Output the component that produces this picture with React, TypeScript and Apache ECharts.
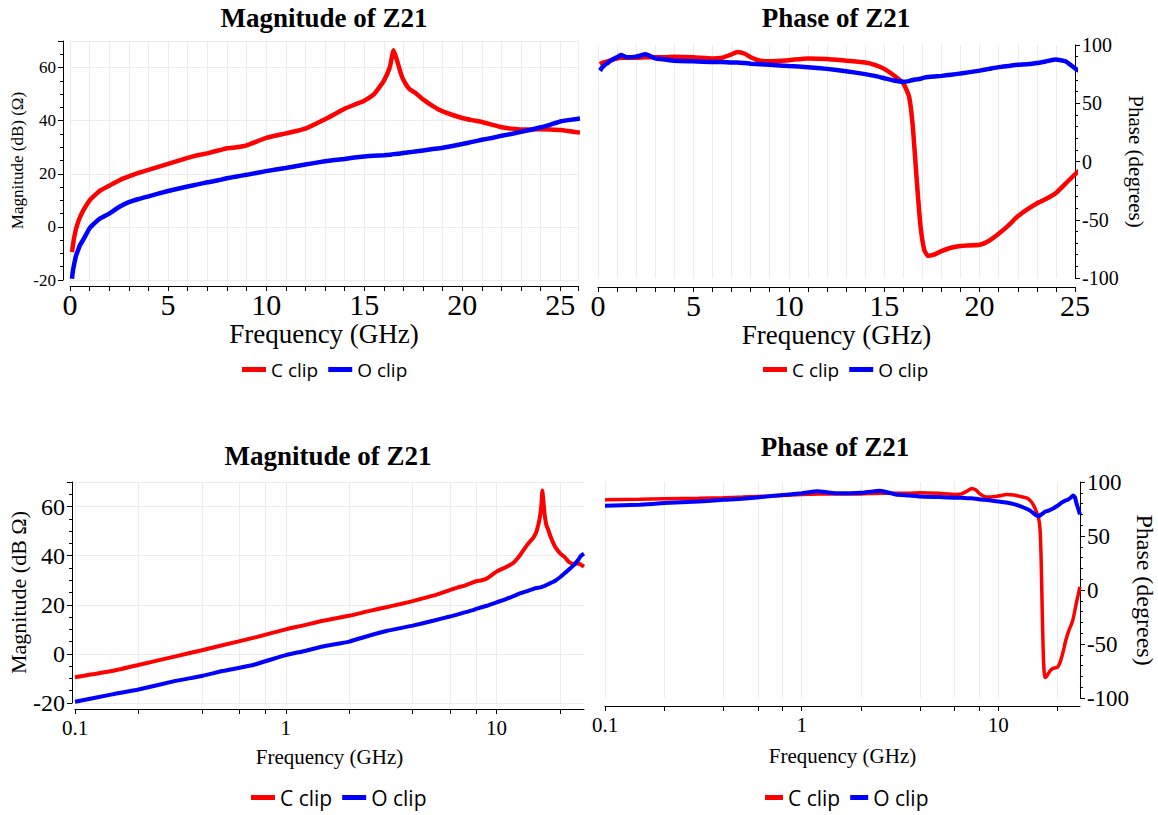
import React, { useEffect, useRef } from "react";
import * as echarts from "echarts";

// Frequency samples (GHz)
const freq = [0.1, 0.15, 0.2, 0.3, 0.4, 0.5, 0.7, 1, 1.2, 1.5, 2, 2.5, 3, 3.5, 4, 5, 6, 6.5, 7, 7.3, 7.7, 8, 8.5, 9, 10, 11, 12, 13, 14, 14.5, 15, 15.5, 16, 16.3, 16.5, 16.7, 16.9, 17.1, 17.3, 17.6, 18, 18.5, 19, 20, 20.5, 21, 21.5, 22, 22.5, 23, 23.5, 24, 24.5, 25, 25.5, 26];

// Magnitude of Z21 (dB Ω)
const magC = [-9.5, -7, -4.5, -1, 1.5, 3.5, 6.5, 10, 11.5, 13.5, 15.5, 17.5, 19, 20.3, 21.5, 23.7, 26, 27, 27.7, 28.3, 29, 29.6, 30, 30.7, 33.5, 35.2, 37, 40.5, 44.5, 46, 47.5, 50, 55, 60, 66.5, 62, 57, 54, 52, 50.5, 48, 45.5, 43.5, 41, 40.2, 39.5, 38.5, 37.5, 37, 36.7, 36.7, 36.8, 36.7, 36.5, 36, 35.5];
const magO = [-19.5, -16.5, -14.5, -11, -9, -7, -4.5, -0.5, 1, 3, 5, 7.5, 9.3, 10.5, 11.5, 13.5, 15.2, 16, 16.8, 17.2, 17.8, 18.3, 19, 19.6, 21, 22.2, 23.5, 24.7, 25.6, 26.1, 26.5, 26.8, 27, 27.2, 27.4, 27.5, 27.7, 27.9, 28.1, 28.4, 28.8, 29.3, 29.8, 31.2, 32, 32.8, 33.5, 34.3, 35, 35.8, 36.6, 37.5, 38.5, 39.7, 40.3, 40.8];

// Phase of Z21 (degrees)
const phaseC = [83.5, 84, 84.5, 85, 85.5, 86, 87, 88.5, 89, 89, 89, 89.5, 89.5, 89.5, 90, 89.5, 88.5, 89, 92, 94, 92.5, 89.5, 86.5, 86, 87, 88.5, 88, 86.5, 85, 83, 79.5, 74, 67, 56, 30, -15, -55, -76, -81, -80, -77, -74, -72.5, -71.5, -68, -62, -55, -47, -41, -36, -32, -27, -19, -11, -4, 3];
const phaseO = [78, 79, 80.5, 82, 83.5, 84.5, 87, 89.5, 91.5, 89.5, 90, 92, 88.5, 87.5, 86.5, 86, 85.5, 85.5, 85, 85, 84.5, 84, 83.5, 83, 82, 81, 79.5, 77.5, 75, 73.5, 71.5, 69.5, 68.5, 69, 70, 70.5, 71, 72, 72.5, 73, 73.5, 74.5, 75.5, 78, 79.5, 81, 82, 83, 83.5, 84.5, 86, 87.5, 86, 80, 75, 70];

// Tick labels
const linLabels = [0, 5, 10, 15, 20, 25];
const logTickValues = [0.1, 0.2, 0.4, 0.6, 0.8, 1, 2, 4, 6, 8, 10, 20];
const logLabelValues = [0.1, 1, 10];
const seriesNames = ["C clip", "O clip"];

const RED = "#ff0000";
const BLUE = "#0000ff";
const SERIF = '"Liberation Serif", "Times New Roman", serif';
const SANS = '"Open Sans", "DejaVu Sans", sans-serif';
const GRID_COLOR = "#ececec";

function pairs(ys: number[]) {
  return freq.map((f, i) => [f, ys[i]]);
}

function linX(gridIndex: number, max: number, offset: number, labelSize: number, nameSize: number, nameGap: number) {
  return {
    gridIndex,
    type: "value",
    min: 0,
    max,
    interval: 1,
    offset,
    axisLine: { show: true, onZero: false, lineStyle: { color: "#000", width: 1 } },
    axisTick: { show: true, length: 5, lineStyle: { color: "#000" } },
    splitLine: { show: true, lineStyle: { color: GRID_COLOR, width: 1 } },
    axisLabel: {
      show: true,
      interval: 0,
      margin: 3,
      color: "#000",
      fontFamily: SERIF,
      fontSize: labelSize,
      formatter: (v: number) => (linLabels.includes(Math.round(v * 1000) / 1000) ? String(v) : ""),
    },
    name: "Frequency (GHz)",
    nameLocation: "middle",
    nameGap,
    nameTextStyle: { color: "#000", fontFamily: SERIF, fontSize: nameSize },
  };
}

function logX(gridIndex: number, max: number, offset: number, labelSize: number, nameSize: number, nameGap: number) {
  return {
    gridIndex,
    type: "log",
    logBase: 10,
    min: 0.1,
    max,
    offset,
    axisLine: { show: true, onZero: false, lineStyle: { color: "#000", width: 1 } },
    axisTick: { show: true, length: 5, customValues: logTickValues, lineStyle: { color: "#000" } },
    splitLine: { show: true, lineStyle: { color: GRID_COLOR, width: 1 } },
    axisLabel: {
      show: true,
      customValues: logLabelValues,
      margin: 8,
      color: "#000",
      fontFamily: SERIF,
      fontSize: labelSize,
      formatter: (v: number) => String(+Number(v).toPrecision(3)),
    },
    name: "Frequency (GHz)",
    nameLocation: "middle",
    nameGap,
    nameTextStyle: { color: "#000", fontFamily: SERIF, fontSize: nameSize },
  };
}

function magY(gridIndex: number, offset: number, labelSize: number, name: string, nameSize: number, nameGap: number) {
  return {
    gridIndex,
    type: "value",
    position: "left",
    min: -20,
    max: 70,
    interval: 20,
    offset,
    axisLine: { show: true, onZero: false, lineStyle: { color: "#000", width: 1 } },
    axisTick: { show: true, length: 5, lineStyle: { color: "#000" } },
    minorTick: { show: true, splitNumber: 4, length: 3, lineStyle: { color: "#000" } },
    splitLine: { show: true, lineStyle: { color: GRID_COLOR, width: 1 } },
    axisLabel: { show: true, color: "#000", fontFamily: SERIF, fontSize: labelSize, margin: 7, showMaxLabel: false },
    name,
    nameLocation: "middle",
    nameGap,
    nameTextStyle: { color: "#000", fontFamily: SERIF, fontSize: nameSize },
  };
}

function phaseY(gridIndex: number, labelSize: number, nameSize: number, nameGap: number) {
  return {
    gridIndex,
    type: "value",
    position: "right",
    min: -100,
    max: 100,
    interval: 50,
    axisLine: { show: true, onZero: false, lineStyle: { color: "#000", width: 1 } },
    axisTick: { show: true, length: 5, lineStyle: { color: "#000" } },
    minorTick: { show: true, splitNumber: 5, length: 3, lineStyle: { color: "#000" } },
    splitLine: { show: false },
    axisLabel: { show: true, color: "#000", fontFamily: SERIF, fontSize: labelSize, margin: 7 },
    name: "Phase (degrees)",
    nameLocation: "middle",
    nameRotate: -90,
    nameGap,
    nameTextStyle: { color: "#000", fontFamily: SERIF, fontSize: nameSize },
  };
}

function lineSeries(name: string, color: string, data: number[], idx: number, width: number) {
  return {
    type: "line",
    name,
    xAxisIndex: idx,
    yAxisIndex: idx,
    data: pairs(data),
    symbol: "none",
    showSymbol: false,
    smooth: 0.15,
    clip: true,
    lineStyle: { color, width },
    itemStyle: { color },
    emphasis: { disabled: true },
  };
}

function legendAt(left: number, top: number, fontSize: number, itemWidth: number) {
  return {
    data: seriesNames,
    left,
    top,
    icon: "rect",
    itemWidth,
    itemHeight: 5,
    itemGap: 10,
    selectedMode: false,
    textStyle: { color: "#000", fontFamily: SANS, fontSize },
  };
}

function titleText(x: number, y: number, text: string, size: number) {
  return {
    type: "text",
    x,
    y,
    silent: true,
    style: {
      text,
      fill: "#000",
      font: `bold ${size}px ${SERIF}`,
      textAlign: "center",
      textVerticalAlign: "middle",
    },
  };
}

export default function App() {
  const ref = useRef<HTMLDivElement>(null);

  useEffect(() => {
    if (!ref.current) return;
    const chart = echarts.init(ref.current, undefined, { renderer: "svg" });
    const option: any = {
      animation: false,
      backgroundColor: "#fff",
      graphic: [
        titleText(324, 18, "Magnitude of Z21", 27),
        titleText(836, 18, "Phase of Z21", 27),
        titleText(328, 456, "Magnitude of Z21", 27),
        titleText(835, 447, "Phase of Z21", 27),
      ],
      legend: [
        legendAt(237, 355, 19, 24),
        legendAt(758, 355, 19, 24),
        legendAt(246, 782, 21, 24),
        legendAt(760, 782, 21, 18),
      ],
      grid: [
        { left: 70, top: 41, width: 508, height: 239 },
        { left: 598, top: 45, width: 477, height: 233 },
        { left: 75, top: 482, width: 509, height: 221 },
        { left: 605, top: 482, width: 476, height: 216 },
      ],
      xAxis: [
        linX(0, 25.9, 6, 30, 27, 34),
        linX(1, 25, 9, 30, 27, 34),
        logX(2, 26, 6, 21, 21, 37),
        logX(3, 26, 8, 21, 21, 39),
      ],
      yAxis: [
        magY(0, 7, 17, "Magnitude (dB) (Ω)", 17, 37),
        phaseY(1, 20, 21, 50),
        magY(2, 3, 24, "Magnitude (dB Ω)", 22, 43),
        phaseY(3, 23, 24, 50),
      ],
      series: [
        lineSeries("C clip", RED, magC, 0, 4.5),
        lineSeries("O clip", BLUE, magO, 0, 4.5),
        lineSeries("C clip", RED, phaseC, 1, 4.5),
        lineSeries("O clip", BLUE, phaseO, 1, 4.5),
        lineSeries("C clip", RED, magC, 2, 4),
        lineSeries("O clip", BLUE, magO, 2, 4),
        lineSeries("C clip", RED, phaseC, 3, 3.5),
        lineSeries("O clip", BLUE, phaseO, 3, 4),
      ],
    };
    chart.setOption(option);
    return () => chart.dispose();
  }, []);

  return (
    <div
      ref={ref}
      style={{ position: "fixed", left: 0, top: 0, width: 1158, height: 815, background: "#fff" }}
    />
  );
}
